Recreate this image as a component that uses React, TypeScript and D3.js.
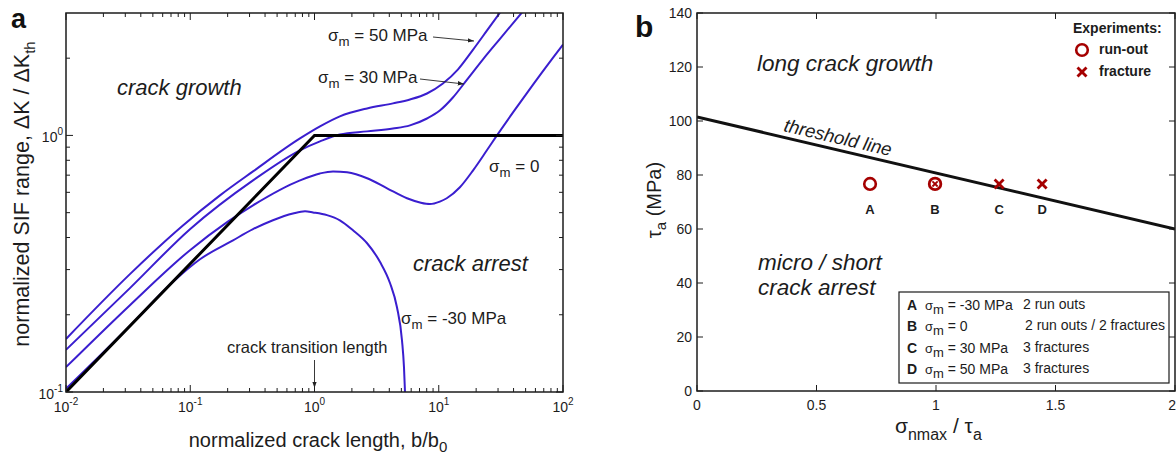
import React from 'react';
import * as d3 from 'd3';

const W = 1176;
const H = 456;
const FONT = "'Liberation Sans', Arial, Helvetica, sans-serif";
const BLUE = '#3a1ecf';
const RED = '#a50000';
const INK = '#1c1c1c';

// panel a: normalized SIF range vs normalized crack length
const sig50X = [0.01, 0.0327, 0.0859, 0.1735, 0.32, 0.764, 1.107, 1.6, 2.65, 4.28, 5.87, 8.04, 10.8, 14.3, 18.9, 24.4, 31.1];
const sig50Y = [0.161, 0.288, 0.443, 0.584, 0.724, 0.973, 1.084, 1.186, 1.274, 1.333, 1.381, 1.457, 1.593, 1.81, 2.16, 2.56, 3.01];
const sig30X = [0.01, 0.0327, 0.0995, 0.32, 0.764, 1.107, 1.6, 2.65, 4.28, 5.87, 8.04, 10.2, 13.0, 16.9, 22.7, 31.1, 51.3];
const sig30Y = [0.146, 0.254, 0.431, 0.668, 0.875, 0.948, 1.009, 1.037, 1.064, 1.094, 1.164, 1.25, 1.405, 1.65, 1.98, 2.38, 3.18];
const sig0X = [0.01, 0.0327, 0.0995, 0.198, 0.32, 0.764, 1.107, 1.41, 1.83, 2.65, 3.84, 5.55, 7.06, 8.5, 10.2, 11.6, 14.8, 18.9, 24.4, 29.4, 39.6, 57.4, 83.2, 100];
const sig0Y = [0.125, 0.218, 0.357, 0.459, 0.534, 0.668, 0.711, 0.724, 0.718, 0.681, 0.622, 0.569, 0.548, 0.54, 0.552, 0.569, 0.628, 0.731, 0.875, 1.0, 1.229, 1.578, 2.01, 2.26];
const sigM30X = [0.01, 0.0327, 0.0754, 0.1198, 0.221, 0.32, 0.463, 0.671, 0.839, 0.973, 1.26, 1.6, 2.04, 2.65, 3.37, 4.05, 4.61, 5.06, 5.25, 5.35];
const sigM30Y = [0.103, 0.181, 0.273, 0.329, 0.39, 0.431, 0.467, 0.496, 0.506, 0.501, 0.489, 0.467, 0.427, 0.38, 0.321, 0.266, 0.214, 0.159, 0.125, 0.1];
const threshX = [0.01, 1, 100];
const threshY = [0.1, 1, 1];
const aDecadesX = [-2, -1, 0, 1, 2];
const aDecadesY = [-1, 0];

// panel b: experiments vs threshold line
const lineBX = [0, 2];
const lineBY = [101.5, 60];
const expNames = ['A', 'B', 'C', 'D'];
const expX = [0.724, 0.996, 1.264, 1.444];
const expY = [76.7, 76.7, 76.7, 76.7];
const expKind = ['runout', 'both', 'fracture', 'fracture'];
const legStress = ['= -30 MPa', '= 0', '= 30 MPa', '= 50 MPa'];
const legResult = ['2 run outs', '2 run outs / 2 fractures', '3 fractures', '3 fractures'];
const bTicksX = [0, 0.5, 1, 1.5, 2];
const bTickLabelsX = ['0', '0.5', '1', '1.5', '2'];
const bTicksY = [0, 20, 40, 60, 80, 100, 120, 140];

const xa = d3.scaleLog().domain([0.01, 100]).range([66, 563]);
const ya = d3.scaleLog().domain([0.1, 3]).range([392, 13]);
const xb = d3.scaleLinear().domain([0, 2]).range([697, 1175]);
const yb = d3.scaleLinear().domain([0, 140]).range([391, 13]);

const smoothA = d3
  .line<[number, number]>()
  .x((d) => xa(d[0]))
  .y((d) => ya(d[1]))
  .curve(d3.curveMonotoneX);

const straightA = d3
  .line<[number, number]>()
  .x((d) => xa(d[0]))
  .y((d) => ya(d[1]));

const zip = (xs: number[], ys: number[]) => xs.map((x, i) => [x, ys[i]] as [number, number]);

const blueCurves = [
  zip(sig50X, sig50Y),
  zip(sig30X, sig30Y),
  zip(sig0X, sig0Y),
  zip(sigM30X, sigM30Y),
];

function Cross({ x, y, s, w }: { x: number; y: number; s: number; w: number }) {
  return (
    <g stroke={RED} strokeWidth={w}>
      <line x1={x - s} y1={y - s} x2={x + s} y2={y + s} />
      <line x1={x - s} y1={y + s} x2={x + s} y2={y - s} />
    </g>
  );
}

function Sigma({ x, y, rest, size = 17 }: any) {
  return (
    <text x={x} y={y} fontSize={size} fill={INK}>
      σ
      <tspan dy={5} fontSize={size * 0.78}>m</tspan>
      <tspan dy={-5}>{' ' + rest}</tspan>
    </text>
  );
}

export default function App() {
  const [ax0, ax1] = xa.range();
  const [ay0, ay1] = ya.range();
  const [bx0, bx1] = xb.range();
  const [by0, by1] = yb.range();

  // minor log ticks for panel a
  const minorX: number[] = [];
  aDecadesX.slice(0, -1).forEach((d) => {
    for (let k = 2; k <= 9; k++) minorX.push(k * Math.pow(10, d));
  });
  const minorY: number[] = [];
  aDecadesY.forEach((d) => {
    for (let k = 2; k <= 9; k++) {
      const v = k * Math.pow(10, d);
      if (v < 3) minorY.push(v);
    }
  });

  const angle =
    (Math.atan2(yb(lineBY[1]) - yb(lineBY[0]), xb(lineBX[1]) - xb(lineBX[0])) * 180) / Math.PI;

  return (
    <svg
      width={W}
      height={H}
      style={{ position: 'absolute', left: 0, top: 0, background: '#fff' }}
      fontFamily={FONT}
    >
      <defs>
        <clipPath id="clipA">
          <rect x={ax0} y={ay1} width={ax1 - ax0} height={ay0 - ay1} />
        </clipPath>
        <clipPath id="clipB">
          <rect x={bx0} y={by1} width={bx1 - bx0} height={by0 - by1} />
        </clipPath>
        <marker id="arr" viewBox="0 0 10 10" refX="10" refY="5" markerWidth="7" markerHeight="7" orient="auto">
          <path d="M0,1.5 L10,5 L0,8.5 z" fill="#222" />
        </marker>
      </defs>

      {/* ---------- panel a ---------- */}
      <text x={11} y={28} fontSize={27} fontWeight="bold" fill="#111">a</text>

      <g clipPath="url(#clipA)">
        {blueCurves.map((c, i) => (
          <path key={i} d={smoothA(c) || ''} fill="none" stroke={BLUE} strokeWidth={2} />
        ))}
        <path d={straightA(zip(threshX, threshY)) || ''} fill="none" stroke="#000" strokeWidth={3} />
      </g>

      <rect x={ax0} y={ay1} width={ax1 - ax0} height={ay0 - ay1} fill="none" stroke={INK} strokeWidth={1.5} />
      <g stroke={INK} strokeWidth={1}>
        {aDecadesX.map((d) => {
          const x = xa(Math.pow(10, d));
          return (
            <g key={'mx' + d}>
              <line x1={x} x2={x} y1={ay0} y2={ay0 - 7} />
              <line x1={x} x2={x} y1={ay1} y2={ay1 + 7} />
            </g>
          );
        })}
        {minorX.map((v, i) => (
          <g key={'nx' + i}>
            <line x1={xa(v)} x2={xa(v)} y1={ay0} y2={ay0 - 4} />
            <line x1={xa(v)} x2={xa(v)} y1={ay1} y2={ay1 + 4} />
          </g>
        ))}
        {aDecadesY.map((d) => {
          const y = ya(Math.pow(10, d));
          return (
            <g key={'my' + d}>
              <line x1={ax0} x2={ax0 + 7} y1={y} y2={y} />
              <line x1={ax1} x2={ax1 - 7} y1={y} y2={y} />
            </g>
          );
        })}
        {minorY.map((v, i) => (
          <g key={'ny' + i}>
            <line x1={ax0} x2={ax0 + 4} y1={ya(v)} y2={ya(v)} />
            <line x1={ax1} x2={ax1 - 4} y1={ya(v)} y2={ya(v)} />
          </g>
        ))}
      </g>
      {aDecadesX.map((d) => (
        <text key={'lx' + d} x={xa(Math.pow(10, d))} y={412} fontSize={14} textAnchor="middle" fill={INK}>
          10<tspan dy={-7} fontSize={10}>{d}</tspan>
        </text>
      ))}
      {aDecadesY.map((d) => (
        <text key={'ly' + d} x={ax0 - 3} y={ya(Math.pow(10, d)) + 6.5} fontSize={14} textAnchor="end" fill={INK}>
          10<tspan dy={-7} fontSize={10}>{d}</tspan>
        </text>
      ))}

      <text x={318} y={447} fontSize={20} textAnchor="middle" fill={INK}>
        normalized crack length, b/b<tspan dy={5} fontSize={15}>0</tspan>
      </text>
      <text transform="translate(29,194) rotate(-90)" fontSize={21.5} textAnchor="middle" fill={INK}>
        normalized SIF range, ΔK / ΔK<tspan dy={6} fontSize={15}>th</tspan>
      </text>

      <text x={117} y={95} fontSize={22} fontStyle="italic" fill={INK}>crack growth</text>
      <text x={413} y={271} fontSize={22} fontStyle="italic" fill={INK}>crack arrest</text>

      <Sigma x={328} y={41} rest="= 50 MPa" />
      <Sigma x={318} y={83} rest="= 30 MPa" />
      <Sigma x={489} y={172} rest="= 0" />
      <Sigma x={401} y={324} rest="= -30 MPa" />
      <line x1={433} y1={37} x2={474} y2={41} stroke="#222" strokeWidth={0.9} markerEnd="url(#arr)" />
      <line x1={420} y1={79} x2={464} y2={84} stroke="#222" strokeWidth={0.9} markerEnd="url(#arr)" />

      <text x={227} y={353} fontSize={16.5} fill={INK}>crack transition length</text>
      <line x1={xa(1)} y1={360} x2={xa(1)} y2={388} stroke="#222" strokeWidth={0.9} markerEnd="url(#arr)" />

      {/* ---------- panel b ---------- */}
      <text x={635} y={37} fontSize={30} fontWeight="bold" fill="#111">b</text>

      <g clipPath="url(#clipB)">
        <line
          x1={xb(lineBX[0])}
          y1={yb(lineBY[0])}
          x2={xb(lineBX[1])}
          y2={yb(lineBY[1])}
          stroke="#111"
          strokeWidth={3}
        />
      </g>

      <rect x={bx0} y={by1} width={bx1 - bx0} height={by0 - by1} fill="none" stroke={INK} strokeWidth={1.5} />
      <g stroke={INK} strokeWidth={1}>
        {bTicksX.map((v) => (
          <g key={'bx' + v}>
            <line x1={xb(v)} x2={xb(v)} y1={by0} y2={by0 - 6} />
            <line x1={xb(v)} x2={xb(v)} y1={by1} y2={by1 + 6} />
          </g>
        ))}
        {bTicksY.map((v) => (
          <g key={'by' + v}>
            <line x1={bx0} x2={bx0 + 6} y1={yb(v)} y2={yb(v)} />
            <line x1={bx1} x2={bx1 - 6} y1={yb(v)} y2={yb(v)} />
          </g>
        ))}
      </g>
      {bTicksX.map((v, i) => (
        <text
          key={'bxl' + v}
          x={i === bTicksX.length - 1 ? W : xb(v)}
          y={410}
          fontSize={14}
          textAnchor={i === bTicksX.length - 1 ? 'end' : 'middle'}
          fill={INK}
        >
          {bTickLabelsX[i]}
        </text>
      ))}
      {bTicksY.map((v) => (
        <text key={'byl' + v} x={bx0 - 5} y={yb(v) + 5} fontSize={14} textAnchor="end" fill={INK}>
          {v}
        </text>
      ))}

      <text transform="translate(661,200) rotate(-90)" fontSize={20} textAnchor="middle" fill={INK}>
        τ<tspan dy={5} fontSize={15}>a</tspan>
        <tspan dy={-5}> (MPa)</tspan>
      </text>
      <text x={895} y={433} fontSize={21} fill={INK}>
        σ<tspan dy={7} fontSize={16}>nmax</tspan>
        <tspan dy={-7}> / τ</tspan>
        <tspan dy={7} fontSize={16}>a</tspan>
      </text>

      <text x={757} y={71} fontSize={22.5} fontStyle="italic" fill={INK}>long crack growth</text>
      <text x={758} y={270} fontSize={22.5} fontStyle="italic" fill={INK}>micro / short</text>
      <text x={758} y={295} fontSize={22.5} fontStyle="italic" fill={INK}>crack arrest</text>
      <text transform={`translate(783,131) rotate(${angle})`} fontSize={18.5} fontStyle="italic" fill={INK}>
        threshold line
      </text>

      {expNames.map((n, i) => {
        const x = xb(expX[i]);
        const y = yb(expY[i]);
        return (
          <g key={n}>
            {expKind[i] === 'runout' && <circle cx={x} cy={y} r={5.8} fill="none" stroke={RED} strokeWidth={2.6} />}
            {expKind[i] === 'both' && (
              <g>
                <circle cx={x} cy={y} r={5.8} fill="none" stroke={RED} strokeWidth={2.8} />
                <Cross x={x} y={y} s={2.6} w={1.8} />
              </g>
            )}
            {expKind[i] === 'fracture' && <Cross x={x} y={y} s={4.5} w={2.8} />}
            <text x={x} y={214} fontSize={13} fontWeight="bold" textAnchor="middle" fill={INK}>{n}</text>
          </g>
        );
      })}

      <text x={1073} y={33} fontSize={14} fontWeight="bold" fill={INK}>Experiments:</text>
      <circle cx={1082} cy={50} r={5.8} fill="none" stroke={RED} strokeWidth={2.6} />
      <text x={1099} y={54} fontSize={14} fontWeight="bold" fill={INK}>run-out</text>
      <Cross x={1082} y={72} s={4.5} w={2.8} />
      <text x={1099} y={76} fontSize={14} fontWeight="bold" fill={INK}>fracture</text>

      <rect x={899} y={292} width={270} height={91} fill="#fff" stroke={INK} strokeWidth={1.2} />
      {expNames.map((n, i) => {
        const y = 310 + i * 21.3;
        return (
          <g key={'leg' + n}>
            <text x={907} y={y} fontSize={14} fontWeight="bold" fill={INK}>{n}</text>
            <text x={925} y={y} fontSize={14} fill={INK}>
              <tspan fontSize={13}>σ</tspan>
              <tspan dy={4} fontSize={13}>m</tspan>
              <tspan dy={-4}>{' ' + legStress[i]}</tspan>
            </text>
            <text x={i === 1 ? 1025 : 1023} y={y - 1} fontSize={14} fill={INK}>{legResult[i]}</text>
          </g>
        );
      })}
    </svg>
  );
}
